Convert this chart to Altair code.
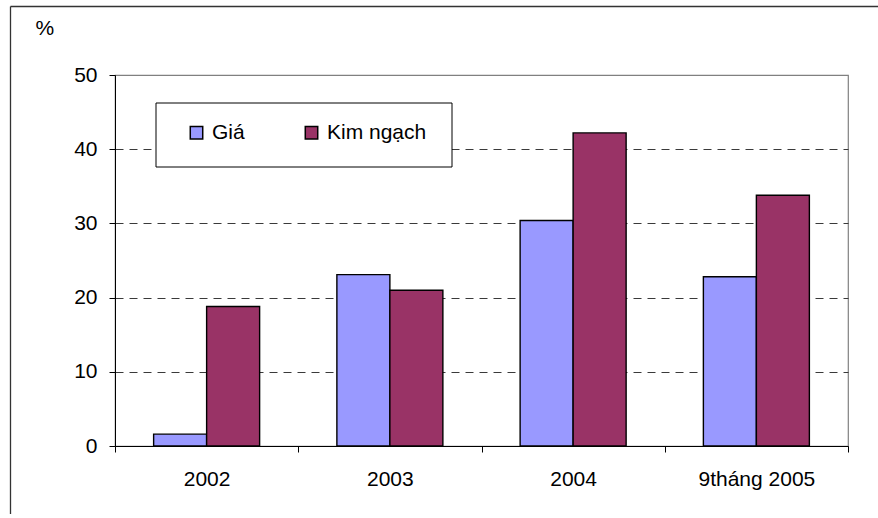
import altair as alt
import pandas as pd

# Year groups and growth rates (%) for price and export turnover
categories = ["2002", "2003", "2004", "9tháng 2005"]
series_names = ["Giá", "Kim ngạch"]
gia_values = [1.6, 23.1, 30.4, 22.8]
kim_ngach_values = [18.8, 21.0, 42.2, 33.8]
y_ticks = [0, 10, 20, 30, 40, 50]

rows = []
for cat, g, k in zip(categories, gia_values, kim_ngach_values):
    rows.append({"nam": cat, "chi_tieu": series_names[0], "gia_tri": g})
    rows.append({"nam": cat, "chi_tieu": series_names[1], "gia_tri": k})
df = pd.DataFrame(rows)

FONT = "Liberation Sans"
FS = 21
W, H = 733, 371
PAD = {"left": 115, "top": 75, "right": 30, "bottom": 68}

bars = alt.Chart(df).mark_bar(stroke="black", strokeWidth=1.4).encode(
    x=alt.X(
        "nam:N",
        sort=categories,
        scale=alt.Scale(paddingInner=0, paddingOuter=0),
        axis=alt.Axis(
            title=None,
            labelAngle=0,
            labelFont=FONT,
            labelFontSize=FS,
            labelColor="black",
            labelPadding=16,
            tickBand="extent",
            tickSize=6,
            tickColor="black",
            domainColor="black",
            grid=False,
        ),
    ),
    xOffset=alt.XOffset("chi_tieu:N", sort=series_names,
                        scale=alt.Scale(paddingInner=0, paddingOuter=0.7288)),
    y=alt.Y(
        "gia_tri:Q",
        scale=alt.Scale(domain=[0, 50], nice=False, zero=True),
        axis=alt.Axis(
            values=y_ticks,
            title="%",
            titleAngle=0,
            titleX=-80,
            titleY=-41,
            titleAlign="left",
            titleBaseline="alphabetic",
            titleFont=FONT,
            titleFontSize=FS,
            titleFontWeight="normal",
            titleColor="black",
            labelFont=FONT,
            labelFontSize=FS,
            labelColor="black",
            labelPadding=12,
            tickSize=6,
            tickColor="black",
            domainColor="black",
            grid=True,
            gridColor="#3a3a3a",
            gridDash=[8, 6],
            gridOpacity=alt.condition("datum.value >= 50 || datum.value <= 0",
                                      alt.value(0), alt.value(1)),
        ),
    ),
    color=alt.Color(
        "chi_tieu:N",
        sort=series_names,
        scale=alt.Scale(domain=series_names, range=["#9999FF", "#993366"]),
        legend=alt.Legend(
            title=None,
            orient="none",
            direction="horizontal",
            legendX=71,
            legendY=47,
            symbolType="square",
            symbolSize=155,
            symbolStrokeColor="black",
            symbolStrokeWidth=1.5,
            symbolOpacity=1,
            labelFont=FONT,
            labelFontSize=FS,
            labelColor="black",
            labelOffset=5,
            columnPadding=56,
            padding=0,
        ),
    ),
)

one = pd.DataFrame({"k": [0]})

# Legend frame
legend_box = alt.Chart(one).mark_rect(fill="white", stroke="black", strokeWidth=1).encode(
    x=alt.value(41), x2=alt.value(337), y=alt.value(28), y2=alt.value(92)
)

# Outer chart frame (top and left edges), kept inside the canvas
right_edge = W + PAD["right"]
bottom_edge = H + PAD["bottom"]
frame_top = alt.Chart(one).mark_rule(color="#333333", strokeWidth=1.3).encode(
    x=alt.value(-104.5), x2=alt.value(right_edge), y=alt.value(-68.5)
)
frame_left = alt.Chart(one).mark_rule(color="#333333", strokeWidth=1.3).encode(
    x=alt.value(-104.5), y=alt.value(-68.5), y2=alt.value(bottom_edge)
)

chart = alt.layer(bars, legend_box, frame_top, frame_left).properties(
    width=W,
    height=H,
    autosize=alt.AutoSizeParams(type="none"),
    padding=PAD,
    background="white",
).configure_view(stroke="#808080", strokeWidth=1.2)

chart.save("out.html", embed_options={"renderer": "svg", "actions": False})
